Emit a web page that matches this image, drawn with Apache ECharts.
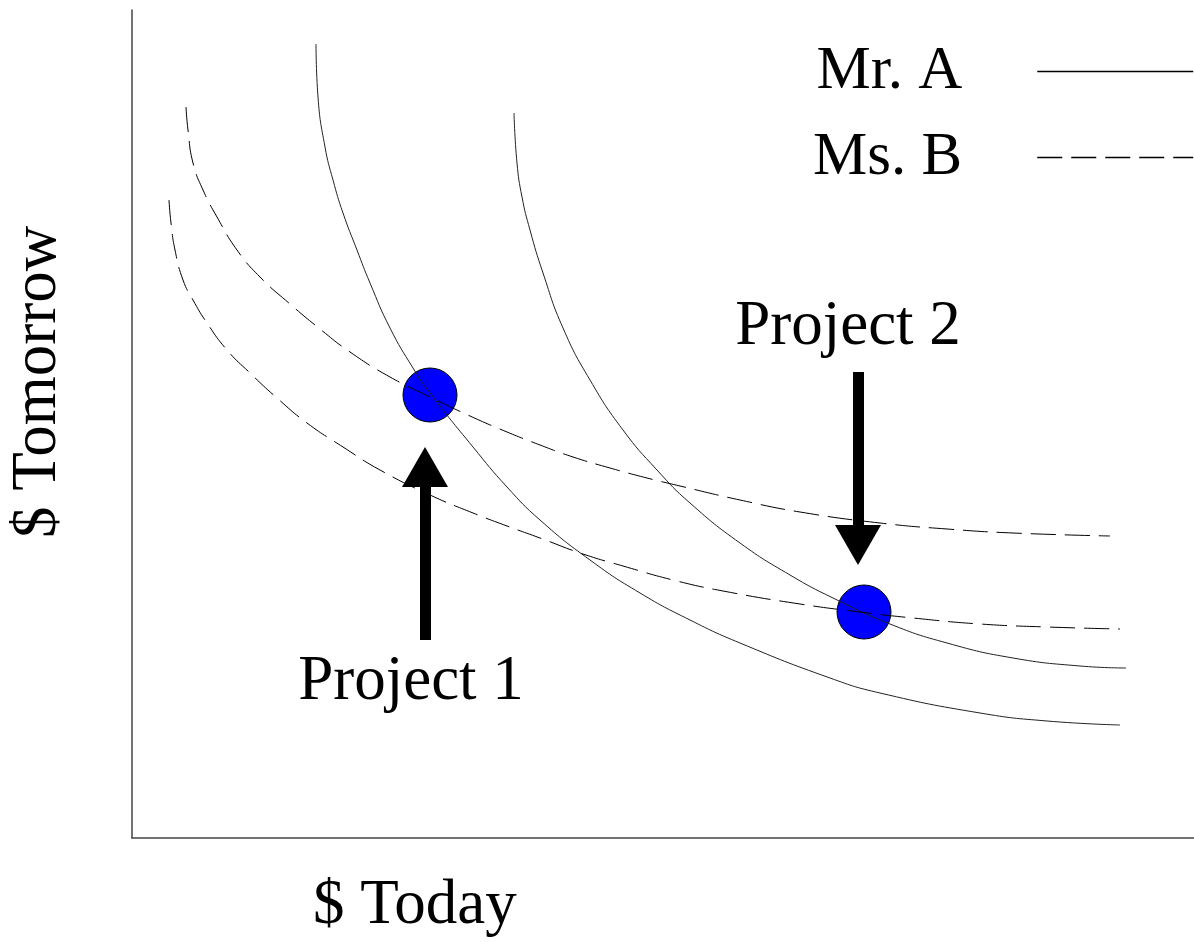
<!DOCTYPE html>
<html>
<head>
<meta charset="utf-8">
<script src="https://cdn.jsdelivr.net/npm/echarts@6/dist/echarts.min.js"></script>
<style>
  html, body { margin: 0; padding: 0; background: #fff; }
  #chart { width: 1194px; height: 942px; }
</style>
</head>
<body>
<div id="chart"></div>
<script>
// indifference curves, [$ today, $ tomorrow] (arbitrary units)
const mrA1 = [[184, 794], [186, 741], [193, 691], [201, 658], [211, 625], [225, 588], [238, 555], [258, 510],
    [281, 470], [298, 445], [341, 391], [375, 351], [408, 318], [458, 278], [508, 245], [558, 218], [608, 195],
    [698, 160], [748, 145], [848, 125], [915, 117], [988, 113]]
const mrA2 = [[382, 725], [385, 675], [390, 641], [398, 608], [411, 565], [431, 510], [458, 458], [491, 408],
    [525, 368], [558, 335], [608, 295], [658, 263], [701, 240], [758, 214], [815, 195], [881, 180], [948, 172],
    [994, 170]]
const msB1 = [[54, 731], [56, 708], [61, 675], [71, 648], [85, 621], [105, 588], [128, 561], [158, 534],
    [188, 509], [218, 486], [258, 461], [298, 441], [338, 422], [375, 406], [408, 393], [441, 381], [478, 370],
    [515, 360], [548, 352], [608, 338], [668, 326], [748, 315], [815, 309], [881, 305], [978, 302]]
const msB2 = [[37, 638], [39, 615], [43, 588], [51, 558], [61, 538], [75, 515], [95, 488], [118, 465],
    [145, 440], [175, 415], [211, 391], [248, 368], [298, 343], [341, 325], [375, 312], [408, 300], [451, 284],
    [491, 272], [541, 258], [591, 247], [668, 234], [728, 226], [781, 220], [848, 214], [915, 211], [988, 209]]

const projects = [[298, 443], [732, 226]]
const projectNames = ['Project 1', 'Project 2']
const labelPos = [[279, 156], [716, 511]]
// arrows: [x, from y, to y]
const arrows = [[293, 198, 371], [726, 466, 293]]

const font = '"Times New Roman", "Liberation Serif", serif'

var chart = echarts.init(document.getElementById('chart'))

const solid = { color: '#222', width: 1, type: 'solid' }
const dashed = { color: '#000', width: 1, type: [25, 9] }

let curve = (name, data, style) => ({
    name: name,
    type: 'line',
    data: data,
    smooth: 0.5,
    symbol: 'none',
    z: 3,
    lineStyle: style,
    itemStyle: { color: style.color },
    silent: true
})

var option = {
    animation: false,
    grid: { left: 132, right: 0, top: 10, bottom: 104 },
    xAxis: {
        type: 'value', min: 0, max: 1062,
        axisLine: { lineStyle: { color: '#444', width: 1.5 } },
        axisTick: { show: false }, axisLabel: { show: false }, splitLine: { show: false }
    },
    yAxis: {
        type: 'value', min: 0, max: 828,
        axisLine: { show: true, lineStyle: { color: '#444', width: 1.5 } },
        axisTick: { show: false }, axisLabel: { show: false }, splitLine: { show: false }
    },
    legend: {
        data: ['Mr. A', 'Ms. B'],
        orient: 'vertical',
        align: 'right',
        right: 0,
        top: 30,
        padding: 0,
        itemGap: 3,
        itemWidth: 156,
        itemHeight: 14,
        selectedMode: false,
        itemStyle: { opacity: 0 },
        lineStyle: { width: 1.5, color: '#000' },
        textStyle: {
            fontFamily: font, fontSize: 61, color: '#000',
            lineHeight: 61, padding: [0, 70, 22, 0]
        }
    },
    graphic: [
        {
            type: 'text', left: 313, top: 875,
            style: { text: '$ Today', font: '63px ' + font, fill: '#000' }
        },
        {
            type: 'text', x: 7, y: 538, rotation: Math.PI / 2,
            style: { text: '$ Tomorrow', font: '63px ' + font, fill: '#000' }
        }
    ],
    series: [
        {
            type: 'scatter',
            data: projects,
            symbolSize: 54,
            z: 2,
            silent: true,
            itemStyle: { color: '#0000ff', borderColor: '#000', borderWidth: 1, opacity: 1 },
            markLine: {
                silent: true,
                symbol: ['none', 'triangle'],
                symbolSize: [46, 40],
                label: { show: false },
                lineStyle: { color: '#000', width: 11, type: 'solid' },
                itemStyle: { color: '#000' },
                data: arrows.map(a => [{ coord: [a[0], a[1]] }, { coord: [a[0], a[2]] }])
            },
            markPoint: {
                silent: true,
                symbol: 'circle',
                symbolSize: 1,
                itemStyle: { color: 'rgba(0,0,0,0)' },
                label: { show: true, position: 'inside', formatter: '{b}', fontFamily: font, fontSize: 63, color: '#000' },
                data: labelPos.map((p, i) => ({ name: projectNames[i], coord: p }))
            }
        },
        curve('Mr. A', mrA1, solid),
        curve('Mr. A', mrA2, solid),
        curve('Ms. B', msB1, dashed),
        curve('Ms. B', msB2, dashed)
    ]
}

chart.setOption(option)
</script>
</body>
</html>
